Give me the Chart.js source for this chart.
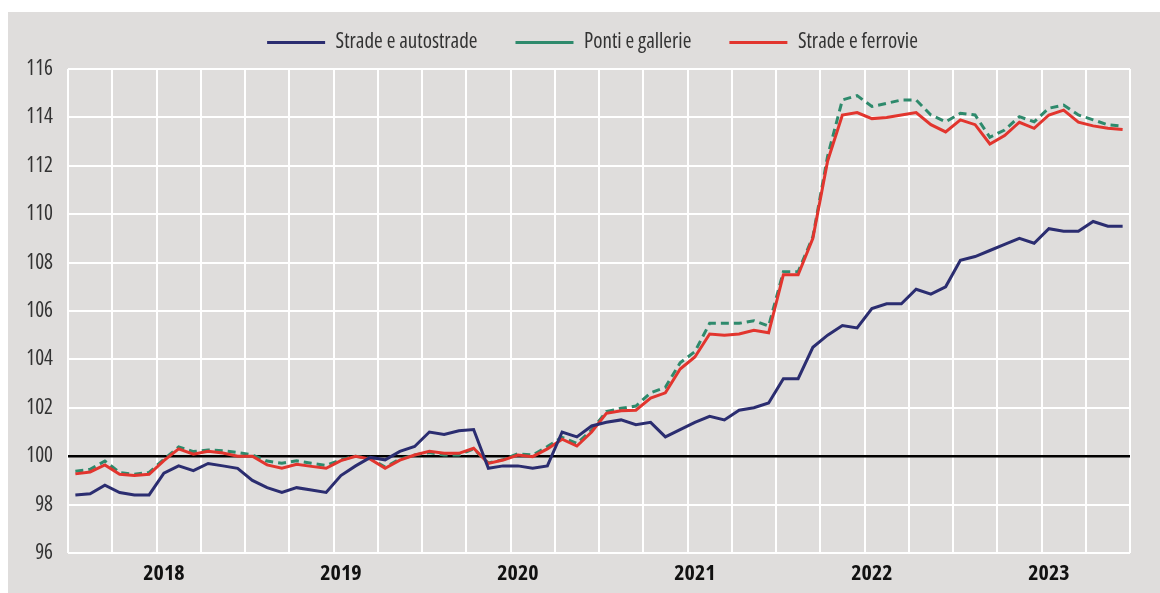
<!DOCTYPE html>
<html>
<head>
<meta charset="utf-8">
<script src="https://cdn.jsdelivr.net/npm/chart.js@4.4.0/dist/chart.umd.min.js"></script>
<style>
  html, body { margin: 0; padding: 0; background: #fff; overflow: hidden; }
  #frame { position: absolute; left: 8px; top: 12px; width: 1152px; height: 581px; background: #dfdddc; }
  #wrap { position: absolute; left: 8px; top: -6px; width: 1152px; }
</style>
</head>
<body>
<div id="frame"></div>
<div id="wrap"><canvas id="chart"></canvas></div>
<script>
// anni e mesi (serie mensile gen 2018 - dic 2023)
const years = ['2018', '2019', '2020', '2021', '2022', '2023'];
const monthNames = ['gen', 'feb', 'mar', 'apr', 'mag', 'giu', 'lug', 'ago', 'set', 'ott', 'nov', 'dic'];
const months = [];
years.forEach(y => monthNames.forEach(m => months.push(m + ' ' + y)));

// tick asse y
const yMin = 96, yMax = 116, yStep = 2;

// Strade e autostrade
const stradeAutostrade = [
  98.4, 98.45, 98.8, 98.5, 98.4, 98.4, 99.3, 99.6, 99.4, 99.7, 99.6, 99.5,
  99.0, 98.7, 98.5, 98.7, 98.6, 98.5, 99.2, 99.6, 99.95, 99.85, 100.2, 100.4,
  101.0, 100.9, 101.05, 101.1, 99.5, 99.6, 99.6, 99.5, 99.6, 101.0, 100.8, 101.25,
  101.4, 101.5, 101.3, 101.4, 100.8, 101.1, 101.4, 101.65, 101.5, 101.9, 102.0, 102.2,
  103.2, 103.2, 104.5, 105.0, 105.4, 105.3, 106.1, 106.3, 106.3, 106.9, 106.7, 107.0,
  108.1, 108.25, 108.5, 108.75, 109.0, 108.8, 109.4, 109.3, 109.3, 109.7, 109.5, 109.5
];

// Ponti e gallerie
const pontiGallerie = [
  99.38, 99.46, 99.8, 99.33, 99.25, 99.33, 99.87, 100.38, 100.19, 100.26, 100.23, 100.15,
  100.05, 99.8, 99.71, 99.81, 99.71, 99.62, 99.85, 100.0, 99.9, 99.55, 99.88, 100.05,
  100.15, 100.05, 100.05, 100.3, 99.72, 99.86, 100.1, 100.05, 100.4, 100.78, 100.53, 101.08,
  101.84, 101.98, 102.07, 102.62, 102.85, 103.86, 104.32, 105.49, 105.49, 105.49, 105.6, 105.38,
  107.62, 107.62, 109.07, 112.4, 114.72, 114.9, 114.45, 114.58, 114.72, 114.72, 114.1, 113.82,
  114.17, 114.1, 113.18, 113.48, 114.03, 113.82, 114.38, 114.51, 114.1, 113.9, 113.69, 113.64
];

// Strade e ferrovie
const stradeFerrovie = [
  99.27, 99.35, 99.64, 99.25, 99.2, 99.25, 99.82, 100.3, 100.08, 100.2, 100.13, 100.0,
  100.0, 99.64, 99.5, 99.67, 99.58, 99.5, 99.82, 100.0, 99.88, 99.5, 99.84, 100.05,
  100.2, 100.12, 100.12, 100.33, 99.7, 99.84, 100.05, 99.98, 100.3, 100.7, 100.42, 101.0,
  101.77, 101.88, 101.9, 102.4, 102.62, 103.6, 104.1, 105.05, 105.0, 105.05, 105.2, 105.1,
  107.5, 107.5, 109.0, 112.2, 114.1, 114.2, 113.95, 114.0, 114.1, 114.2, 113.7, 113.4,
  113.9, 113.7, 112.9, 113.25, 113.8, 113.55, 114.1, 114.3, 113.8, 113.65, 113.55, 113.5
];

// cerca un carattere stretto tra quelli installati
function pickFont() {
  const ctx = document.createElement('canvas').getContext('2d');
  const sample = 'Strade e autostrade';
  const candidates = [
    ['', '"Liberation Sans Narrow"'],
    ['', '"Arial Narrow"'],
    ['', '"DejaVu Sans Condensed"'],
    ['condensed', '"DejaVu Sans"'],
    ['condensed', '"Noto Sans"'],
    ['condensed', '"Open Sans"'],
    ['', '"Roboto Condensed"'],
    ['condensed', 'Roboto'],
    ['', '"Liberation Sans"']
  ];
  let best = null;
  candidates.forEach(([stretch, fam]) => {
    ctx.font = '10px monospace';
    ctx.font = (stretch ? stretch + ' ' : '') + '20px ' + fam + ', monospace';
    const w = ctx.measureText(sample).width;
    if (!best || w < best.w) best = { stretch, fam, w };
  });
  return best;
}
const picked = pickFont();
const FONT = picked.fam + ', "Liberation Sans", sans-serif';
const K = Math.min(1.05, 148 / picked.w); // 148px = larghezza del testo di legenda nel grafico
const STRETCH = picked.stretch;
const w = (base) => STRETCH ? (base ? base + ' ' : '') + STRETCH : base;

// misure (pixel della pagina): area del grafico 68..1130 x 69..553, legenda centrata a y=42
const LS = Math.round(20 * K);      // corpo legenda
const LP = 38;                       // spaziatura voci legenda
const canvasTop = Math.round(42 - LP - LS / 2);
const plotTop = 69 - canvasTop;
const canvasH = 593 - canvasTop;

const cv = document.getElementById('chart');
cv.width = 1152; cv.height = canvasH;
document.getElementById('wrap').style.top = canvasTop + 'px';

// la legenda nell'originale è un po' spostata a destra
const spostaLegenda = {
  id: 'spostaLegenda',
  afterLayout(chart) { if (chart.legend) chart.legend.left += 47; }
};

new Chart(cv, {
  type: 'line',
  data: {
    labels: months,
    datasets: [
      { label: 'Strade e autostrade', data: stradeAutostrade, borderColor: '#2b2d70', backgroundColor: '#2b2d70', borderWidth: 3, order: 0 },
      { label: 'Ponti e gallerie', data: pontiGallerie, borderColor: '#2e8a6c', backgroundColor: '#2e8a6c', borderWidth: 3, borderDash: [8, 5], order: 2 },
      { label: 'Strade e ferrovie', data: stradeFerrovie, borderColor: '#e2352e', backgroundColor: '#e2352e', borderWidth: 3, order: 1 }
    ]
  },
  plugins: [spostaLegenda],
  options: {
    responsive: false,
    animation: false,
    devicePixelRatio: 1,
    layout: { padding: { top: 0, right: 30, bottom: 0, left: 0 } },
    elements: { point: { radius: 0 }, line: { tension: 0 } },
    plugins: {
      legend: {
        position: 'top',
        labels: {
          usePointStyle: true,
          pointStyle: 'line',
          pointStyleWidth: 58,
          padding: LP,
          color: '#333',
          font: { family: FONT, size: LS, weight: w('normal') },
          sort: (a, b) => a.datasetIndex - b.datasetIndex
        }
      },
      // spazio vuoto tra legenda e grafico
      title: { display: true, text: '', weight: 100, font: { size: 1, lineHeight: 1 }, padding: { top: 0, bottom: plotTop - (LS + LP + 10) - 1 } },
      tooltip: { enabled: false }
    },
    scales: {
      x: {
        offset: true,
        grid: {
          offset: true,
          drawTicks: false,
          lineWidth: 2,
          color: c => (c.index === undefined || c.index % 3 === 0) ? '#ffffff' : 'rgba(0,0,0,0)'
        },
        border: { display: false },
        ticks: {
          autoSkip: false,
          maxRotation: 0,
          minRotation: 0,
          padding: 8,
          color: '#111',
          font: { family: FONT, size: Math.round(21 * K), weight: w('bold') },
          callback: (v, i) => i % 12 === 6 ? years[Math.floor(i / 12)] : ''
        },
        afterFit: s => { s.height = 40; }
      },
      y: {
        min: yMin,
        max: yMax,
        grid: {
          drawTicks: false,
          lineWidth: c => c.tick && c.tick.value === 100 ? 2.5 : 2,
          color: c => c.tick && c.tick.value === 100 ? '#000000' : '#ffffff'
        },
        border: { display: false },
        ticks: {
          stepSize: yStep,
          padding: 15,
          color: '#333',
          font: { family: FONT, size: Math.round(20 * K), weight: w('normal') }
        },
        afterFit: s => { s.width = 60; }
      }
    }
  }
});
</script>
</body>
</html>
